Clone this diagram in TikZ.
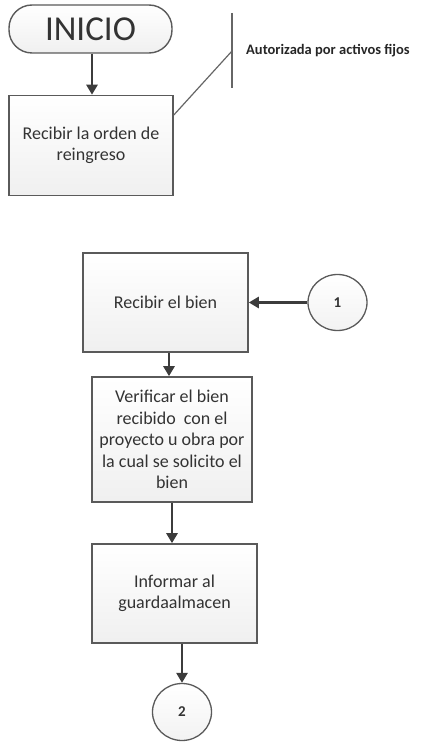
\documentclass[tikz,border=0pt]{standalone}
\usepackage{fontspec}
\setmainfont{Carlito}
\usetikzlibrary{arrows.meta,shapes.geometric}
\definecolor{edge}{HTML}{5A5A5A}
\definecolor{ink}{HTML}{333333}
\definecolor{flow}{HTML}{3C3C3C}
\tikzset{
  procbox/.style={draw=edge, line width=1.6pt, top color=white, bottom color=black!6,
    minimum width=#1, align=center, text=ink, inner sep=0pt,
    font=\fontsize{18}{21.5}\selectfont},
  terminal/.style={draw=edge, line width=1.4pt, rounded corners=23pt, top color=white,
    bottom color=black!6, minimum width=163pt, minimum height=48pt, text=ink,
    font=\fontsize{35}{40}\selectfont},
  connector/.style={ellipse, draw=edge, line width=1.3pt, top color=white, bottom color=black!5,
    minimum width=59pt, minimum height=56pt, inner sep=0pt, text=ink,
    font=\bfseries\fontsize{15}{17}\selectfont},
  flowarrow/.style={draw=flow, line width=2.8pt, -{Triangle[width=11pt,length=10pt]}},
  noteline/.style={draw=black!60, line width=1.2pt},
}
\begin{document}
\begin{tikzpicture}[x=1pt,y=-1pt]
\useasboundingbox (0,0) rectangle (429,746);

% start terminal and first task
\node[terminal] (inicio) at (90.5,29) {INICIO};
\node[procbox=164pt, minimum height=100pt] (orden) at (91,145.5)
  {Recibir la orden de\\reingreso};
\draw[flowarrow] (inicio.south -| 92,0) -- (orden.north -| 92,0);

% annotation bracket with its note
\coordinate (brtop) at (232,13);
\coordinate (brbot) at (232,88);
\coordinate (brmid) at (232,51);
\draw[noteline] (brtop) -- (brbot);
\draw[noteline] (brmid) -- (orden.east |- 0,115);
\node[anchor=west, text=black!85, inner sep=0pt,
  font=\bfseries\fontsize{14.5}{17}\selectfont] (nota) at (246,51)
  {Autorizada por activos fijos};

% second part of the process
\node[procbox=165pt, minimum height=99pt] (recibir) at (165.5,302.5) {Recibir el bien};
\node[connector] (c1) at (337.5,302.5) {1};
\draw[flowarrow] (c1.west) -- (recibir.east);

\node[procbox=160pt, minimum height=125pt] (verificar) at (172,439.5)
  {Verificar el bien\\recibido~ con el\\proyecto u obra por\\la cual se solicito el\\bien};
\draw[flowarrow] (recibir.south -| 169,0) -- (verificar.north -| 169,0);

\node[procbox=165pt, minimum height=99pt] (informar) at (174.5,593.5)
  {Informar al\\guardaalmacen};
\draw[flowarrow] (verificar.south -| 172,0) -- (informar.north -| 172,0);

\node[connector, minimum height=57pt] (c2) at (182,712) {2};
\draw[flowarrow] (informar.south -| c2) -- (c2.north);
\end{tikzpicture}
\end{document}
